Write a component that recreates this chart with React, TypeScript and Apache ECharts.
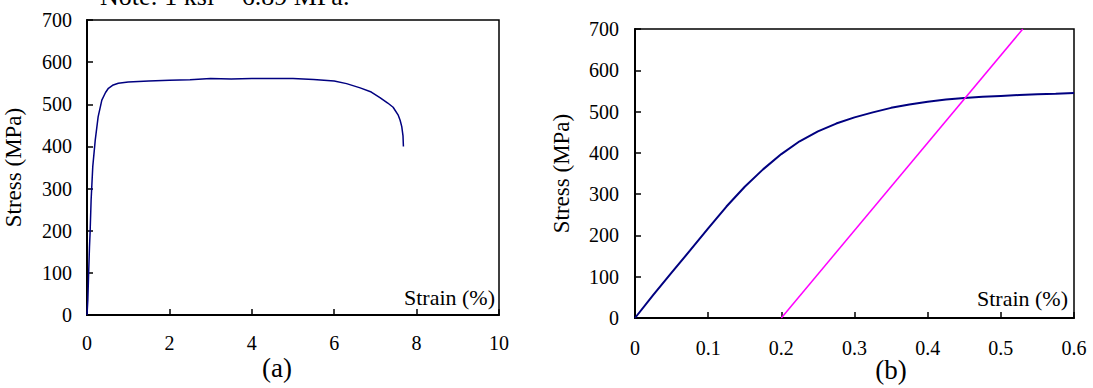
import React, { useEffect, useRef } from "react";
import * as echarts from "echarts";

// (a) full stress-strain curve: [strain %, stress MPa]
const curveA: number[][] = [
  [0, 0], [0.02, 35], [0.04, 100], [0.06, 160], [0.075, 195], [0.1, 273],
  [0.14, 352], [0.2, 415], [0.27, 470], [0.36, 510], [0.45, 528], [0.52, 538],
  [0.62, 545], [0.76, 550], [1.0, 553], [1.5, 555], [2.0, 557], [2.5, 558],
  [3.0, 561], [3.5, 560], [4.0, 561], [4.5, 561], [5.0, 561], [5.5, 559],
  [6.0, 555], [6.3, 549], [6.63, 539], [6.9, 529], [7.11, 516], [7.3, 503],
  [7.43, 493], [7.55, 475], [7.6, 462], [7.64, 447], [7.67, 425], [7.68, 400],
];

// (b) initial portion: [strain %, stress MPa]
const curveB: number[][] = [
  [0, 0], [0.025, 56], [0.05, 110], [0.075, 163], [0.1, 217], [0.125, 270],
  [0.15, 318], [0.175, 360], [0.2, 397], [0.225, 428], [0.25, 452], [0.275, 471],
  [0.3, 486], [0.325, 498], [0.35, 509], [0.375, 517], [0.4, 524], [0.425, 529],
  [0.45, 533], [0.475, 536], [0.5, 538], [0.525, 540], [0.55, 542], [0.575, 543],
  [0.6, 545],
];

// 0.2% offset line
const offsetLine: number[][] = [[0.2, 0], [0.53, 700]];

const xTicksA = { min: 0, max: 10, interval: 2 };
const xTicksB = { min: 0, max: 0.6, interval: 0.1 };
const yTicks = { min: 0, max: 700, interval: 100 };

const FONT = "'Liberation Serif', 'Times New Roman', 'DejaVu Serif', serif";

export default function App() {
  const ref = useRef<HTMLDivElement>(null);
  useEffect(() => {
    if (!ref.current) return;
    const chart = echarts.init(ref.current, undefined, { renderer: "svg" });
    const labelStyle = { color: "#000", fontFamily: FONT, fontSize: 20 };
    const xAxisBase = (gridIndex: number, t: any, margin: number) => ({
      type: "value",
      gridIndex,
      ...t,
      axisLine: { show: true, onZero: false, lineStyle: { color: "#000", width: 2 } },
      axisTick: { show: true, inside: true, length: 6, lineStyle: { color: "#000", width: 1.5 } },
      axisLabel: { ...labelStyle, margin },
      splitLine: { show: false },
    });
    const yAxisBase = (gridIndex: number, margin: number) => ({
      type: "value",
      gridIndex,
      ...yTicks,
      name: "Stress (MPa)",
      nameLocation: "middle",
      nameRotate: 90,
      nameGap: 62,
      nameTextStyle: { color: "#000", fontFamily: FONT, fontSize: 23 },
      axisLine: { show: true, onZero: false, lineStyle: { color: "#000", width: 2 } },
      axisTick: { show: true, inside: true, length: 6, lineStyle: { color: "#000", width: 1.5 } },
      axisLabel: { ...labelStyle, margin },
      splitLine: { show: false },
    });
    const textStyle = (text: string, size: number, align: string, va: string) => ({
      text,
      fill: "#000",
      fontFamily: FONT,
      fontSize: size,
      align,
      verticalAlign: va,
    });
    chart.setOption({
      animation: false,
      backgroundColor: "#fff",
      grid: [
        { left: 87, top: 20, width: 412, height: 295, show: true, borderColor: "#000", borderWidth: 1.5 },
        { left: 635, top: 29, width: 439, height: 289, show: true, borderColor: "#000", borderWidth: 1.5 },
      ],
      xAxis: [xAxisBase(0, xTicksA, 18), xAxisBase(1, xTicksB, 20)],
      yAxis: [yAxisBase(0, 15), yAxisBase(1, 16)],
      series: [
        {
          type: "line",
          xAxisIndex: 0,
          yAxisIndex: 0,
          data: curveA,
          showSymbol: false,
          lineStyle: { color: "#000080", width: 1.5 },
        },
        {
          type: "line",
          xAxisIndex: 1,
          yAxisIndex: 1,
          data: curveB,
          showSymbol: false,
          lineStyle: { color: "#000080", width: 2 },
        },
        {
          type: "line",
          xAxisIndex: 1,
          yAxisIndex: 1,
          data: offsetLine,
          showSymbol: false,
          clip: true,
          lineStyle: { color: "#ff00ff", width: 1.5 },
        },
      ],
      graphic: [
        { type: "text", x: 100, y: 9, style: textStyle("Note: 1 ksi = 6.89 MPa.", 26, "left", "bottom") },
        { type: "text", x: 495, y: 297, style: textStyle("Strain (%)", 22, "right", "middle") },
        { type: "text", x: 1068, y: 298, style: textStyle("Strain (%)", 22, "right", "middle") },
        { type: "text", x: 277, y: 368, style: textStyle("(a)", 27, "center", "middle") },
        { type: "text", x: 891, y: 370, style: textStyle("(b)", 27, "center", "middle") },
      ],
    });
    return () => chart.dispose();
  }, []);
  return (
    <div
      ref={ref}
      style={{ position: "fixed", left: 0, top: 0, width: 1093, height: 388 }}
    />
  );
}
